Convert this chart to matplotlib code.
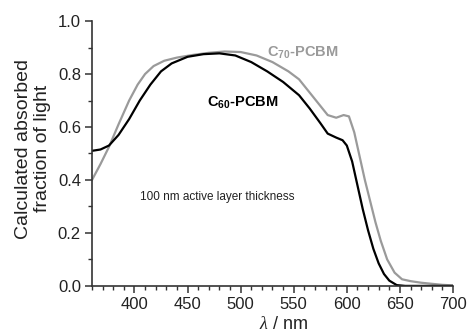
import matplotlib
matplotlib.use('Agg')
import matplotlib.pyplot as plt
from matplotlib.ticker import MultipleLocator

plt.rcParams['font.family'] = ['Liberation Sans', 'DejaVu Sans']
plt.rcParams['mathtext.fontset'] = 'custom'
plt.rcParams['mathtext.rm'] = 'Liberation Sans'
plt.rcParams['mathtext.bf'] = 'Liberation Sans:bold'
plt.rcParams['mathtext.it'] = 'Liberation Serif:italic'

# C60-PCBM (black)
wl_c60 = [360, 368, 376, 385, 395, 405, 415, 425, 435, 450, 465, 480, 495,
          510, 525, 540, 555, 565, 575, 582, 590, 596, 600, 605, 610, 615,
          620, 625, 630, 635, 640, 647, 655, 700]
abs_c60 = [0.51, 0.515, 0.53, 0.57, 0.63, 0.70, 0.76, 0.81, 0.84, 0.865,
           0.875, 0.878, 0.87, 0.845, 0.81, 0.77, 0.72, 0.67, 0.615, 0.575,
           0.56, 0.55, 0.53, 0.47, 0.38, 0.29, 0.21, 0.14, 0.085, 0.045,
           0.02, 0.003, 0.0, 0.0]

# C70-PCBM (grey)
wl_c70 = [360, 368, 376, 385, 395, 403, 410, 418, 428, 440, 455, 470, 485,
          500, 515, 530, 545, 555, 565, 575, 582, 590, 597, 602, 607, 612,
          617, 622, 627, 632, 638, 645, 652, 660, 670, 680, 690, 700]
abs_c70 = [0.40, 0.46, 0.525, 0.61, 0.70, 0.76, 0.80, 0.83, 0.85, 0.862,
           0.872, 0.88, 0.885, 0.883, 0.87, 0.845, 0.81, 0.78, 0.73, 0.68,
           0.645, 0.635, 0.645, 0.64, 0.58, 0.49, 0.40, 0.32, 0.24, 0.17,
           0.10, 0.05, 0.025, 0.018, 0.012, 0.008, 0.004, 0.002]

fig = plt.figure(figsize=(4.67, 3.34), dpi=100)
ax = fig.add_axes([0.197, 0.144, 0.773, 0.793])

ax.plot(wl_c70, abs_c70, color='#9a9a9a', lw=1.6)
ax.plot(wl_c60, abs_c60, color='black', lw=1.6)

ax.set_xlim(360, 700)
ax.set_ylim(0, 1.0)
ax.xaxis.set_minor_locator(MultipleLocator(10))
ax.yaxis.set_minor_locator(MultipleLocator(0.1))
ax.set_xticks([400, 450, 500, 550, 600, 650, 700])
ax.set_yticks([0, 0.2, 0.4, 0.6, 0.8, 1.0])
ax.set_yticklabels(['0.0', '0.2', '0.4', '0.6', '0.8', '1.0'])

for s in ['top', 'right']:
    ax.spines[s].set_visible(False)
for s in ['left', 'bottom']:
    ax.spines[s].set_color('#333333')
    ax.spines[s].set_linewidth(1.2)

ax.tick_params(which='major', direction='out', length=5, width=1.1,
               color='#333333', labelsize=12, labelcolor='#222222', pad=3)
ax.tick_params(which='minor', direction='out', length=3, width=1.0,
               color='#333333')

fig.text(0.071, 0.555, 'Calculated absorbed\nfraction of light', fontsize=14,
         color='#222222', linespacing=1.2, rotation=90,
         ha='center', va='center')
ax.set_xlabel(r'$\mathit{\lambda}$' + ' / nm', fontsize=13, color='#222222')
ax.xaxis.set_label_coords(0.53, -0.115)

ax.text(405, 0.336, '100 nm active layer thickness', fontsize=8.5,
        va='center', ha='left', color='#222222')
ax.text(468, 0.69, r'C$_{\mathbf{60}}$-PCBM', fontsize=10.5,
        fontweight='bold', va='center', ha='left', color='black')
ax.text(525, 0.88, r'C$_{\mathbf{70}}$-PCBM', fontsize=10.5,
        fontweight='bold', va='center', ha='left', color='#9a9a9a')

fig.savefig('out.png', dpi=100)
